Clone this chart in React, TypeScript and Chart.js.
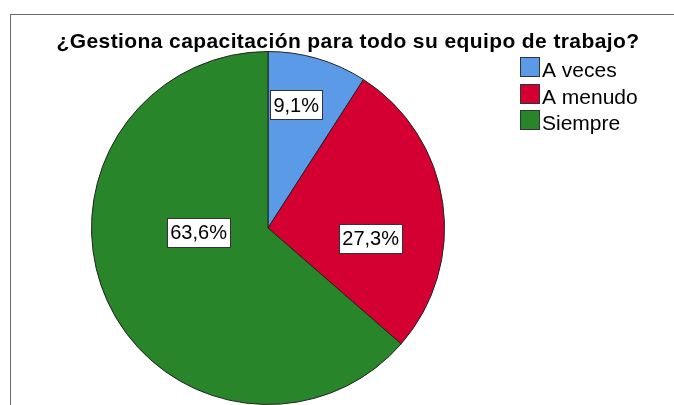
import React, { useEffect, useRef } from "react";
import { Chart, registerables } from "chart.js";

Chart.register(...registerables);

const categories = ["A veces", "A menudo", "Siempre"];
const percentages = [9.1, 27.3, 63.6];
const colors = ["#5A9AE6", "#D50032", "#288529"];
const titleText = "¿Gestiona capacitación para todo su equipo de trabajo?";

// label anchor: angle from top (deg, clockwise) and distance as fraction of radius
const labelPlacement = [
  { angle: 12.9, dist: 0.715 },
  { angle: 96.1, dist: 0.585 },
  { angle: 266.7, dist: 0.394 },
];

const FONT = "'Liberation Sans', Arial, sans-serif";

const fmt = (v: number) => v.toFixed(1).replace(".", ",") + "%";

const overlayPlugin = {
  id: "overlay",
  afterDraw(chart: any) {
    const ctx = chart.ctx as CanvasRenderingContext2D;
    const meta = chart.getDatasetMeta(0);
    const arc0 = meta.data[0] as any;
    const cx = arc0.x;
    const cy = arc0.y;
    const r = arc0.outerRadius;

    // title
    ctx.save();
    ctx.fillStyle = "#000";
    ctx.font = `bold 21px ${FONT}`;
    (ctx as any).letterSpacing = "0.4px";
    ctx.textAlign = "center";
    ctx.textBaseline = "alphabetic";
    ctx.fillText(titleText, 348, 48);
    ctx.restore();

    // value labels
    ctx.save();
    ctx.font = `20px ${FONT}`;
    ctx.textAlign = "center";
    ctx.textBaseline = "middle";
    percentages.forEach((v, i) => {
      const p = labelPlacement[i];
      const a = (p.angle * Math.PI) / 180;
      const x = cx + Math.sin(a) * p.dist * r;
      const y = cy - Math.cos(a) * p.dist * r;
      const text = fmt(v);
      const w = ctx.measureText(text).width + 6;
      const h = 29;
      const bx = Math.round(x - w / 2) + 0.5;
      const by = Math.round(y - h / 2) + 0.5;
      ctx.fillStyle = "#fff";
      ctx.fillRect(bx, by, Math.round(w), h);
      ctx.strokeStyle = "#333";
      ctx.lineWidth = 1;
      ctx.strokeRect(bx, by, Math.round(w), h);
      ctx.fillStyle = "#000";
      ctx.fillText(text, x, y + 1);
    });
    ctx.restore();

    // legend
    ctx.save();
    ctx.font = `21px ${FONT}`;
    ctx.textAlign = "left";
    ctx.textBaseline = "alphabetic";
    categories.forEach((c, i) => {
      const top = 57 + i * 26.5;
      const bx = 520.5;
      const by = Math.round(top) + 0.5;
      ctx.fillStyle = colors[i];
      ctx.fillRect(bx, by, 19, 19);
      ctx.strokeStyle = "#333";
      ctx.lineWidth = 1;
      ctx.strokeRect(bx, by, 19, 19);
      ctx.fillStyle = "#000";
      ctx.fillText(c, 542, by + 19);
    });
    ctx.restore();
  },
};

export default function App() {
  const ref = useRef<HTMLCanvasElement | null>(null);
  useEffect(() => {
    if (!ref.current) return;
    const chart = new Chart(ref.current, {
      type: "pie",
      data: {
        labels: categories,
        datasets: [
          {
            data: percentages,
            backgroundColor: colors,
            borderColor: "#222",
            borderWidth: 1,
            hoverOffset: 0,
          },
        ],
      },
      options: {
        responsive: false,
        animation: false,
        layout: { padding: { left: 90, right: 228, top: 51, bottom: 25 } },
        plugins: {
          legend: { display: false },
          title: { display: false },
          tooltip: { enabled: false },
        },
        events: [],
      },
      plugins: [overlayPlugin],
    });
    return () => chart.destroy();
  }, []);

  return (
    <div
      style={{
        position: "fixed",
        left: 0,
        top: 0,
        width: 674,
        height: 405,
        overflow: "hidden",
        background: "#fff",
      }}
    >
      <div
        style={{
          position: "absolute",
          left: 10,
          top: 14,
          width: 800,
          height: 600,
          borderTop: "1px solid #6b6b6b",
          borderLeft: "1px solid #6b6b6b",
        }}
      />
      <canvas
        ref={ref}
        width={674}
        height={430}
        style={{ position: "absolute", left: 0, top: 0, display: "block" }}
      />
    </div>
  );
}
